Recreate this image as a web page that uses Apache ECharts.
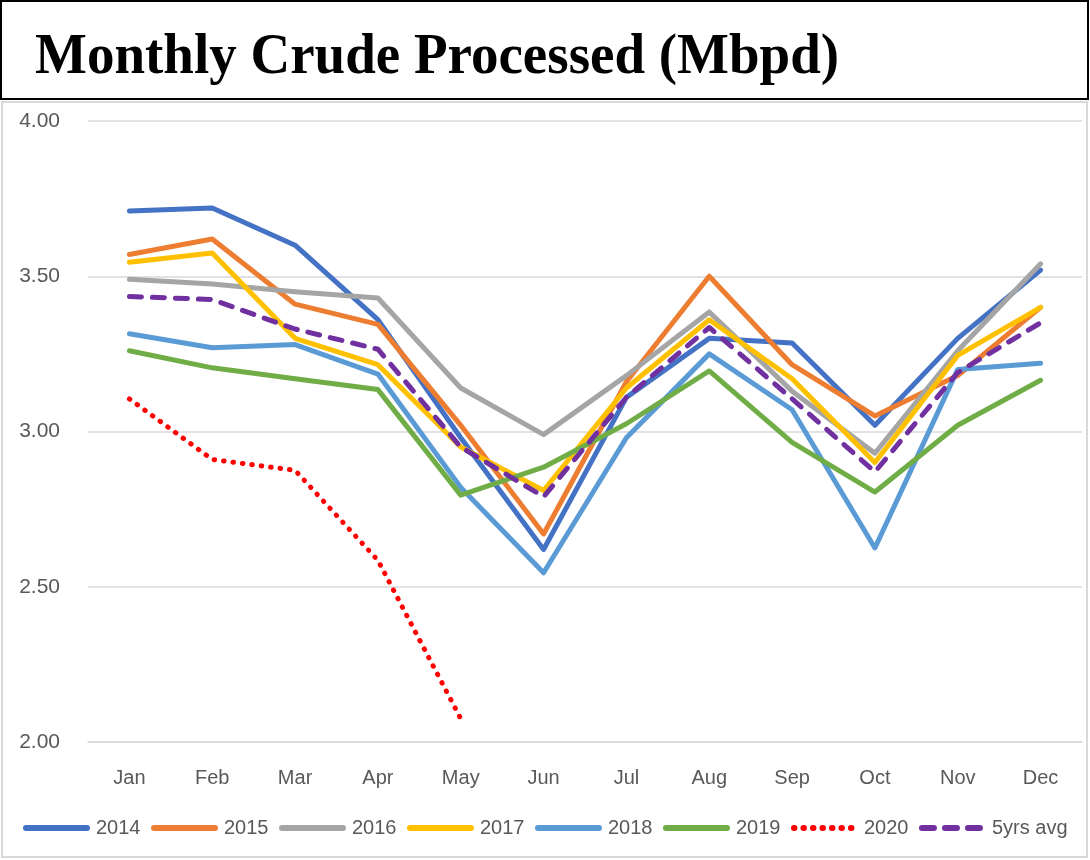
<!DOCTYPE html>
<html>
<head>
<meta charset="utf-8">
<script src="https://cdn.jsdelivr.net/npm/echarts@6/dist/echarts.min.js"></script>
<style>
html,body{margin:0;padding:0;background:#fff;}
#chart{width:1090px;height:860px;}
</style>
</head>
<body>
<div id="chart"></div>
<script>
// ---- data ----
const months = ['Jan','Feb','Mar','Apr','May','Jun','Jul','Aug','Sep','Oct','Nov','Dec'];
const y2014 = [3.71, 3.72, 3.60, 3.36, 2.98, 2.62, 3.11, 3.30, 3.285, 3.02, 3.30, 3.52];
const y2015 = [3.57, 3.62, 3.41, 3.345, 3.02, 2.67, 3.16, 3.50, 3.215, 3.05, 3.18, 3.40];
const y2016 = [3.49, 3.475, 3.45, 3.43, 3.14, 2.99, 3.18, 3.385, 3.13, 2.93, 3.26, 3.54];
const y2017 = [3.545, 3.575, 3.30, 3.215, 2.95, 2.81, 3.14, 3.36, 3.17, 2.90, 3.245, 3.40];
const y2018 = [3.315, 3.27, 3.28, 3.185, 2.82, 2.545, 2.98, 3.25, 3.07, 2.625, 3.20, 3.22];
const y2019 = [3.26, 3.205, 3.17, 3.135, 2.795, 2.885, 3.025, 3.195, 2.965, 2.805, 3.02, 3.165];
const y2020 = [3.105, 2.91, 2.875, 2.585, 2.075];
const avg5 = [3.435, 3.425, 3.33, 3.265, 2.95, 2.79, 3.11, 3.335, 3.105, 2.87, 3.19, 3.35];
const yTicks = [2.00, 2.50, 3.00, 3.50, 4.00];
const titleText = 'Monthly Crude Processed (Mbpd)';

const seriesDefs = [
  {name:'2014', data:y2014, color:'#4472C4'},
  {name:'2015', data:y2015, color:'#ED7D31'},
  {name:'2016', data:y2016, color:'#A5A5A5'},
  {name:'2017', data:y2017, color:'#FFC000'},
  {name:'2018', data:y2018, color:'#5B9BD5'},
  {name:'2019', data:y2019, color:'#70AD47'},
  {name:'2020', data:y2020, color:'#FF0000', type:[0.5, 9], width:5},
  {name:'5yrs avg', data:avg5, color:'#7030A0', type:[12, 11], width:5}
];

const labelFont = '"Liberation Sans", Arial, sans-serif';

const chart = echarts.init(document.getElementById('chart'), null, {renderer:'canvas'});
chart.setOption({
  animation:false,
  backgroundColor:'#ffffff',
  graphic:[
    {type:'rect', shape:{x:1, y:1, width:1087, height:98}, style:{fill:'#fff', stroke:'#000', lineWidth:2}, z:-1},
    {type:'rect', shape:{x:2, y:102, width:1085, height:755}, style:{fill:'#fff', stroke:'#d9d9d9', lineWidth:2}, z:-1},
    {type:'text', left:35, top:29, scaleY:1.05,
      style:{text:titleText, font:'bold 55px "Liberation Serif", "Times New Roman", serif', fill:'#000'}}
  ],
  grid:{left:88, right:8, top:121, bottom:118, containLabel:false},
  legend:{
    left:23, top:818, width:1066, padding:0,
    itemWidth:61, itemHeight:2, itemGap:10.5,
    itemStyle:{opacity:0},
    lineStyle:{width:6, cap:'round'},
    textStyle:{fontFamily:labelFont, fontSize:20, color:'#595959', padding:[0,0,0,4]},
    data:seriesDefs.map(s=>s.name)
  },
  xAxis:{
    type:'category', data:months, boundaryGap:true,
    axisLine:{show:true, lineStyle:{color:'#d9d9d9', width:1.5}},
    axisTick:{show:false},
    axisLabel:{fontFamily:labelFont, fontSize:20, color:'#595959', margin:26}
  },
  yAxis:{
    type:'value', min:2, max:4, interval:0.5,
    axisLine:{show:false}, axisTick:{show:false},
    splitLine:{lineStyle:{color:'#d9d9d9', width:1.5}},
    axisLabel:{fontFamily:labelFont, fontSize:21, color:'#595959', margin:28,
      formatter:v=>v.toFixed(2)}
  },
  series:seriesDefs.map(s=>({
    name:s.name, type:'line', data:s.data,
    symbol:'none', smooth:false,
    lineStyle:{color:s.color, width:s.width||5, type:s.type||'solid', cap:'round', join:'round'},
    itemStyle:{color:s.color}
  }))
});
</script>
</body>
</html>
